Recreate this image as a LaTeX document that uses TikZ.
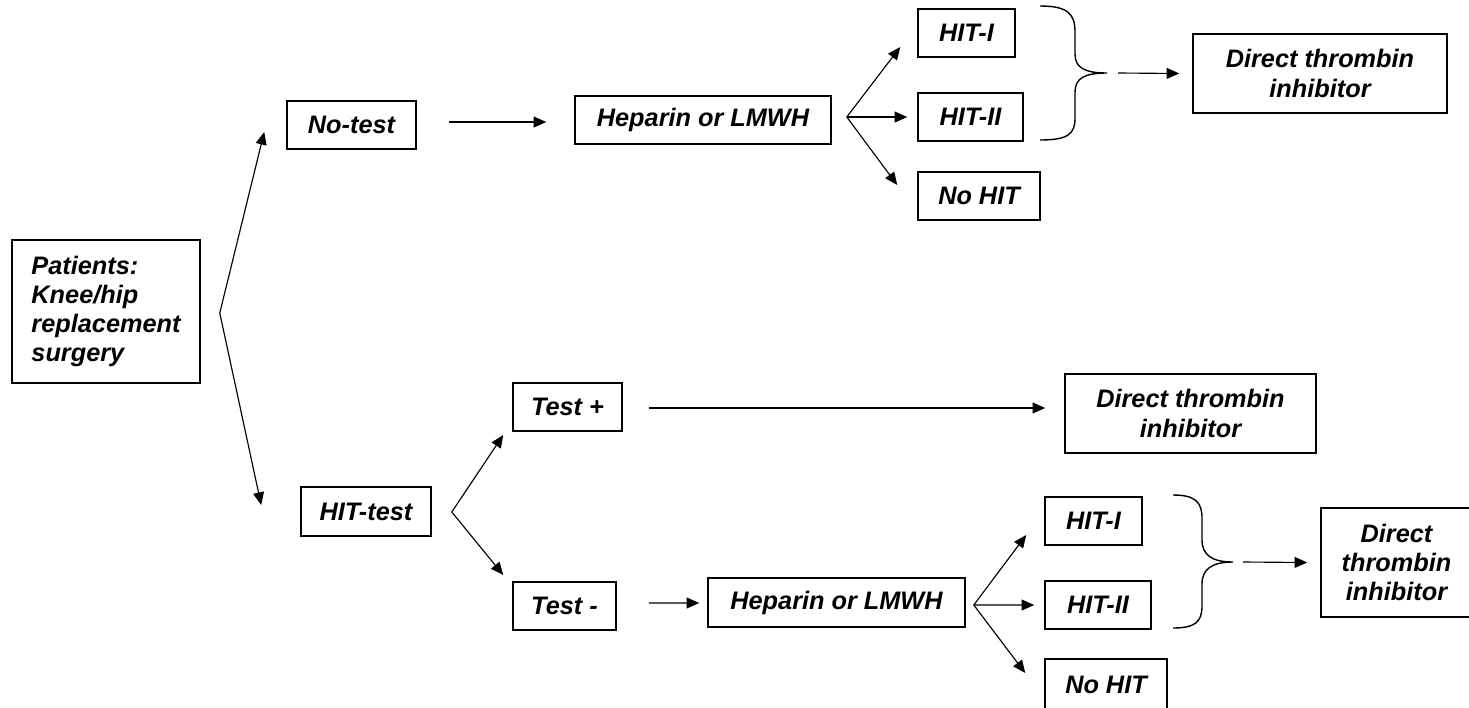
\documentclass[tikz,border=0pt]{standalone}
\usepackage{fontspec}
\setmainfont{Liberation Sans}
\usetikzlibrary{calc,arrows.meta}
\begin{document}
\begin{tikzpicture}[x=0.02cm,y=-0.02cm,
  box/.style={draw,line width=0.9pt,inner sep=2pt,font=\fontsize{14.4}{16.6}\selectfont\bfseries\itshape},
  arr/.style={line width=0.65pt,-{Triangle[length=7.2pt,width=6.2pt]}},
  bracestyle/.style={line width=0.8pt}]
\useasboundingbox (0,0) rectangle (1469,707);
% nodes
\node[box,minimum width=3.76cm,minimum height=2.86cm,align=left] (pat) at (106,311.5) {Patients:\\Knee/hip\\replacement\\surgery};
\node[box,minimum width=2.58cm,minimum height=0.96cm] (notest) at (351.5,125) {No-test};
\node[box,minimum width=5.12cm,minimum height=0.96cm] (hep1) at (703,120) {Heparin or LMWH};
\node[box,minimum width=1.94cm,minimum height=0.96cm] (hita) at (966.5,33) {HIT-I};
\node[box,minimum width=2.10cm,minimum height=0.96cm] (hitb) at (970.5,117) {HIT-II};
\node[box,minimum width=2.44cm,minimum height=0.96cm] (nohit) at (979,196) {No HIT};
\node[box,minimum width=5.08cm,minimum height=1.58cm,align=center] (dti1) at (1320,73.5) {Direct thrombin\\inhibitor};
\node[box,minimum width=2.60cm,minimum height=0.98cm] (hittest) at (366,511.5) {HIT-test};
\node[box,minimum width=2.18cm,minimum height=0.96cm] (testp) at (567.5,407) {Test +};
\node[box,minimum width=2.06cm,minimum height=0.96cm] (testm) at (564.5,606) {Test -};
\node[box,minimum width=5.02cm,minimum height=1.58cm,align=center] (dti2) at (1190.5,413.5) {Direct thrombin\\inhibitor};
\node[box,minimum width=5.14cm,minimum height=0.98cm] (hep2) at (836.5,602.5) {Heparin or LMWH};
\node[box,minimum width=1.94cm,minimum height=0.96cm] (hitc) at (1093.5,521) {HIT-I};
\node[box,minimum width=2.12cm,minimum height=0.96cm] (hitd) at (1098,605) {HIT-II};
\node[box,minimum width=2.44cm,minimum height=1.02cm] (nohit2) at (1106,684.5) {No HIT};
\node[box,minimum width=3.02cm,minimum height=2.18cm,align=center] (dti3) at (1396.5,562.5) {Direct\\thrombin\\inhibitor};
% patient fork
\coordinate (pf) at ($(pat.east)+(19,1.5)$);
\draw[arr] (pf) -- ($(notest.west)+(-22,7)$);
\draw[arr] (pf) -- ($(hittest.west)+(-39,-6.5)$);
% upper branch
\draw[arr] ($(notest.east)+(32,-3)$) -- ($(hep1.west)+(-28,2)$);
\coordinate (f1) at ($(hep1.east)+(15,-3)$);
\draw[arr] (f1) -- ($(hita.west)+(-17,14)$);
\draw[arr] (f1) -- ($(hitb.west)+(-10,0)$);
\draw[arr] (f1) -- ($(nohit.west)+(-20,-11)$);
\coordinate (b1) at (1107,73);
\draw[bracestyle] (1040,6) .. controls (1068,6) and (1075,14) .. (1075,32) -- (1075,54)
  .. controls (1075,68) and (1085,73) .. (b1)
  .. controls (1085,73) and (1075,78) .. (1075,92) -- (1075,118)
  .. controls (1075,134) and (1068,140) .. (1040,140);
\draw[arr] ($(b1)+(11,0)$) -- ($(dti1.west)+(-13,0)$);
% lower branch
\coordinate (f2) at ($(hittest.east)+(20,0.5)$);
\draw[arr] (f2) -- ($(testp.west)+(-9,28)$);
\draw[arr] (f2) -- ($(testm.west)+(-9,-31)$);
\draw[arr] ($(testp.east)+(26,1)$) -- ($(dti2.west)+(-19,-5.5)$);
\draw[arr] ($(testm.east)+(32,-3)$) -- ($(hep2.west)+(-8,0.5)$);
\coordinate (f3) at ($(hep2.east)+(8,2.5)$);
\draw[arr] (f3) -- ($(hitc.west)+(-18,14)$);
\draw[arr] (f3) -- ($(hitd.west)+(-10,0)$);
\draw[arr] (f3) -- ($(nohit2.west)+(-19,-11.5)$);
\coordinate (b2) at (1233,562);
\draw[bracestyle] (1173,495) .. controls (1195,495) and (1202,502) .. (1202,518) -- (1202,540)
  .. controls (1202,555) and (1212,562) .. (b2)
  .. controls (1212,562) and (1202,569) .. (1202,584) -- (1202,606)
  .. controls (1202,622) and (1195,628) .. (1173,628);
\draw[arr] ($(b2)+(10,0)$) -- ($(dti3.west)+(-13,0)$);
\end{tikzpicture}
\end{document}
